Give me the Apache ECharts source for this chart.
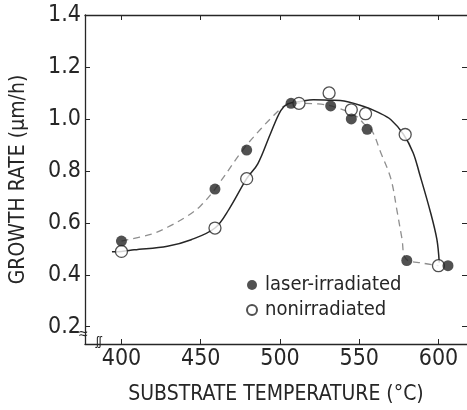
<!DOCTYPE html>
<html>
<head>
<meta charset="utf-8">
<script src="https://cdn.jsdelivr.net/npm/echarts@6/dist/echarts.min.js"></script>
<style>
  html, body { margin: 0; padding: 0; background: #fff; }
  #main { width: 467px; height: 410px; }
</style>
</head>
<body>
<div id="main"></div>
<script>
// measured points
var laserT = [400, 459, 479, 507, 532, 545, 555, 580, 606];
var laserRate = [0.53, 0.73, 0.88, 1.06, 1.05, 1.00, 0.96, 0.455, 0.435];
var plainT = [400, 459, 479, 512, 531, 545, 554, 579, 600];
var plainRate = [0.49, 0.58, 0.77, 1.06, 1.10, 1.035, 1.02, 0.94, 0.435];

// hand-drawn guide curves
var laserCurveT = [400, 419, 429, 442, 450, 459, 477, 488, 496, 503, 507, 524, 538, 549, 553, 558, 563.5, 570, 574, 577, 579.5, 590, 600];
var laserCurveRate = [0.53, 0.557, 0.583, 0.628, 0.666, 0.73, 0.884, 0.962, 1.013, 1.052, 1.06, 1.058, 1.039, 1.007, 0.981, 0.955, 0.872, 0.769, 0.641, 0.538, 0.461, 0.445, 0.435];
var plainCurveT = [394, 400, 408, 429, 444, 459, 468, 479, 486, 494, 500.5, 505, 513, 521, 532, 538, 553, 562, 570, 578, 584, 588, 595, 599, 600.5];
var plainCurveRate = [0.489, 0.49, 0.496, 0.51, 0.535, 0.58, 0.654, 0.77, 0.827, 0.943, 1.032, 1.058, 1.067, 1.074, 1.072, 1.071, 1.048, 1.025, 0.997, 0.94, 0.87, 0.79, 0.64, 0.536, 0.447];

var xTicks = [400, 450, 500, 550, 600];
var yTicks = [0.2, 0.4, 0.6, 0.8, 1.0, 1.2, 1.4];

function pairs(xs, ys) {
    return xs.map(function (x, i) { return [x, ys[i]]; });
}

var font = '"Liberation Sans Narrow", "DejaVu Sans Condensed", "Liberation Sans", sans-serif';
var ink = '#262626';

var dom = document.getElementById('main');
var myChart = echarts.init(dom);

var option = {
    backgroundColor: '#fff',
    animation: false,
    grid: { left: 83, right: 0, top: 15, bottom: 65 },
    legend: {
        orient: 'vertical',
        left: 241,
        top: 270,
        itemGap: 5,
        itemWidth: 10,
        itemHeight: 10,
        icon: 'circle',
        data: ['laser-irradiated', 'nonirradiated'],
        textStyle: { fontFamily: font, fontSize: 20, color: ink, padding: [0, 0, 0, 3] }
    },
    xAxis: [
        {
            type: 'value', min: 377, max: 618,
            name: 'SUBSTRATE TEMPERATURE (°C)',
            nameLocation: 'middle', nameGap: 40,
            nameTextStyle: { fontFamily: font, fontSize: 21, color: ink },
            axisLine: { lineStyle: { color: ink, width: 1.3 } },
            axisTick: { inside: true, length: 5, customValues: xTicks, lineStyle: { color: ink } },
            axisLabel: { customValues: xTicks, margin: 4, fontFamily: font, fontSize: 23, color: ink },
            splitLine: { show: false }
        },
        {
            type: 'value', min: 377, max: 618, position: 'top',
            axisLine: { lineStyle: { color: ink, width: 1.3 } },
            axisTick: { inside: true, length: 5, customValues: xTicks, lineStyle: { color: ink } },
            axisLabel: { show: false },
            splitLine: { show: false }
        }
    ],
    yAxis: [
        {
            type: 'value', min: 0.1336, max: 1.4,
            name: 'GROWTH RATE (μm/h)',
            nameLocation: 'middle', nameGap: 56,
            nameTextStyle: { fontFamily: font, fontSize: 21, color: ink },
            axisLine: { show: true, lineStyle: { color: ink, width: 1.3 } },
            axisTick: { show: true, inside: true, length: 5, customValues: yTicks, lineStyle: { color: ink } },
            axisLabel: {
                customValues: yTicks, margin: 4, fontFamily: font, fontSize: 23, color: ink,
                formatter: function (v) { return v.toFixed(1); }
            },
            splitLine: { show: false }
        },
        {
            // right frame falls just outside the picture; only its ticks show
            type: 'value', min: 0.1336, max: 1.4, position: 'right',
            axisLine: { show: false },
            axisTick: { show: true, inside: true, length: 5, customValues: yTicks, lineStyle: { color: ink } },
            axisLabel: { show: false },
            splitLine: { show: false }
        }
    ],
    series: [
        {
            name: 'laser fit',
            type: 'line',
            data: pairs(laserCurveT, laserCurveRate),
            smooth: 0.35,
            showSymbol: false,
            silent: true,
            lineStyle: { color: '#8f8f8f', width: 1.3, type: [7, 5] },
            z: 1
        },
        {
            name: 'nonirradiated fit',
            type: 'line',
            data: pairs(plainCurveT, plainCurveRate),
            smooth: 0.35,
            showSymbol: false,
            silent: true,
            lineStyle: { color: ink, width: 1.5 },
            z: 2
        },
        {
            name: 'laser-irradiated',
            type: 'scatter',
            data: pairs(laserT, laserRate),
            symbol: 'circle',
            symbolSize: 11,
            itemStyle: { color: ink },
            z: 4
        },
        {
            name: 'nonirradiated',
            type: 'scatter',
            data: pairs(plainT, plainRate),
            symbol: 'circle',
            symbolSize: 12,
            itemStyle: { color: '#fff', borderColor: ink, borderWidth: 1.3 },
            z: 3
        }
    ],
    graphic: [
        { type: 'text', left: 79, top: 327, style: { text: '≈', fontSize: 16, fill: ink } },
        { type: 'text', left: 96, top: 336, style: { text: 'ʃʃ', fontSize: 12, fill: ink } }
    ]
};

if (option && typeof option === 'object') {
    myChart.setOption(option);
}
</script>
</body>
</html>
